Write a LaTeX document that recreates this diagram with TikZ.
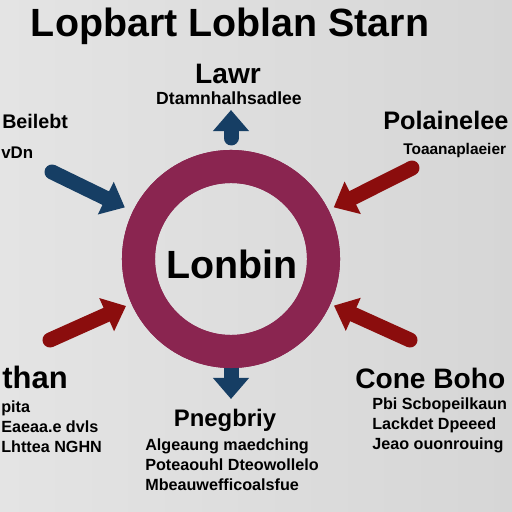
\documentclass[tikz,border=0pt]{standalone}
\usepackage{fontspec}
\setmainfont{Liberation Sans}
\usetikzlibrary{arrows.meta}
\definecolor{ringred}{RGB}{138,37,80}
\definecolor{navy}{RGB}{22,62,100}
\definecolor{darkred}{RGB}{139,13,13}
\definecolor{bgleft}{RGB}{228,228,228}
\definecolor{bgmid}{RGB}{236,236,236}
\definecolor{bgright}{RGB}{214,214,214}

\begin{document}
\begin{tikzpicture}[x=0.025cm,y=-0.025cm,
    ring/.style={circle,draw=ringred,line width=0.825cm,minimum size=4.625cm,inner sep=0pt},
    head/.style={font=\fontsize{#1}{#1}\selectfont\bfseries,inner sep=0pt},
    sub/.style={font=\fontsize{11.5}{14.5}\selectfont\bfseries,inner sep=0pt,align=left},
    bluearrow/.style={draw=navy,line width=0.375cm,line cap=round,-{Triangle[width=0.875cm,length=0.53cm]}},
    redarrow/.style={bluearrow,draw=darkred}]
  \useasboundingbox (0,0) rectangle (512,512);
  \fill[left color=bgleft,middle color=bgmid,right color=bgright] (0,0) rectangle (512,512);
  \node[ring] (ring) at (231,259) {};
  \coordinate (up) at (231,110);
  \coordinate (down) at (231,399);
  \coordinate (nw) at (52,172);
  \coordinate (ne) at (412,168);
  \coordinate (sw) at (50,340);
  \coordinate (se) at (410,340);
  \draw[bluearrow,shorten <=0.3cm] (ring) -- (up);
  \draw[bluearrow] (ring) -- (down);
  \draw[bluearrow,shorten >=0.225cm] (nw) -- (ring);
  \draw[redarrow,shorten >=0.15cm] (ne) -- (ring);
  \draw[redarrow,shorten >=0.15cm] (sw) -- (ring);
  \draw[redarrow,shorten >=0.1cm] (se) -- (ring);
  \node[ring] (ring) at (231,259) {};
  \node[head=28,anchor=base] (title) at (230,37) {Lopbart Loblan Starn};
  \node[head=28,anchor=base] (hub) at (232,278) {Lonbin};
  \node[head=20,anchor=base] (law) at (228,83) {Lawr};
  \node[head=12.5,anchor=base] (lawsub) at (229,104) {Dtamnhalhsadlee};
  \node[head=14,anchor=base west] (left) at (2,128) {Beilebt};
  \node[head=12,anchor=base west] (leftsub) at (1,158) {vDn};
  \node[head=18,anchor=base west] (right) at (383,129) {Polainelee};
  \node[head=11,anchor=base west] (rightsub) at (403,154) {Toaanaplaeier};
  \node[head=22,anchor=base east] (lowleft) at (68,388) {than};
  \node[sub,anchor=north west] (lowleftsub) at (1,400) {pita\\Eaeaa.e dvls\\Lhttea NGHN};
  \node[head=20,anchor=base west] (lowright) at (355,388) {Cone Boho};
  \node[sub,anchor=north west] (lowrightsub) at (372,397) {Pbi Scbopeilkaun\\Lackdet Dpeeed\\Jeao ouonrouing};
  \node[head=17,anchor=base] (bottom) at (225,426) {Pnegbriy};
  \node[sub,anchor=north west] (bottomsub) at (145,438) {Algeaung maedching\\Poteaouhl Dteowollelo\\Mbeauwefficoalsfue};
\end{tikzpicture}
\end{document}
